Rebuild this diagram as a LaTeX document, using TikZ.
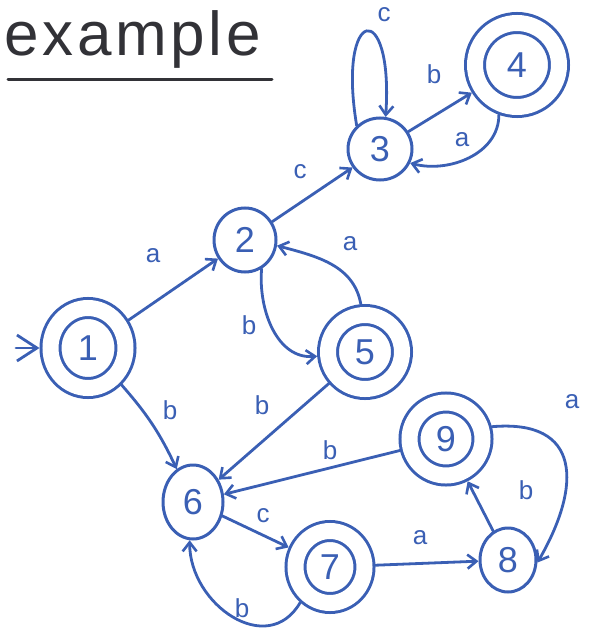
\documentclass[tikz,border=0pt]{standalone}
\usepackage{fontspec}
\setmainfont{Liberation Sans}
\usetikzlibrary{shapes.geometric,arrows.meta}
\definecolor{handblue}{RGB}{58,95,180}
\definecolor{handink}{RGB}{50,50,55}
\tikzset{
  st/.style={draw=handblue, ellipse, line width=3pt, inner sep=0pt, text=handblue,
    font=\fontsize{36}{36}\selectfont},
  acc/.style={st, double, double distance=16pt, outer sep=11pt},
  tr/.style={draw=handblue, line width=2.8pt, line cap=round,
    -{Straight Barb[length=9pt,width=14pt,line width=2.6pt]}},
  lbl/.style={text=handblue, font=\fontsize{26}{26}\selectfont, inner sep=0pt}
}
\begin{document}
\begin{tikzpicture}[x=1pt,y=-1pt]
\useasboundingbox (0,0) rectangle (606,639);
% title
\node[text=handink, font=\fontsize{62}{62}\selectfont\addfontfeature{LetterSpace=6}, anchor=base west, inner sep=0pt] (title) at (4,56) {example};
\coordinate (ul1) at (8,80);
\coordinate (ul2) at (272,80);
\draw[handink, line width=3pt, line cap=round] (ul1) -- (ul2);
% states
\node[acc, minimum width=75pt, minimum height=80pt] (1) at (88,348) {1};
\node[st, minimum width=62pt, minimum height=64pt] (2) at (245,240) {2};
\node[st, minimum width=64pt, minimum height=62pt] (3) at (380,149) {3};
\node[acc, minimum width=84pt, minimum height=84pt] (4) at (517,65) {4};
\node[acc, minimum width=74pt, minimum height=74pt] (5) at (365,352) {5};
\node[st, minimum width=60pt, minimum height=74pt] (6) at (193,502) {6};
\node[acc, minimum width=69pt, minimum height=72pt] (7) at (330,567) {7};
\node[st, minimum width=56pt, minimum height=64pt] (8) at (508,560) {8};
\node[acc, minimum width=73pt, minimum height=73pt] (9) at (446,439) {9};
% start
\coordinate (s) at (16,348);
\draw[draw=handblue, line width=2.8pt, line cap=round,
  -{Straight Barb[length=20pt,width=26pt,line width=2.8pt]}] (s) -- (1);
% transitions
\draw[tr] (1) -- (2);
\draw[tr] (1) to[bend left=8] (6);
\draw[tr] (2) -- (3);
\draw[tr] (2.-60) to[out=-95,in=185] (5);
\draw[tr] (5.95) to[out=100,in=-15] (2.-10);
\draw[tr] (3.135) .. controls +(-20,-120) and +(8,-120) .. (3.80);
\draw[tr] (3) -- (4);
\draw[tr] (4.-110) to[out=-90,in=-15] (3.-25);
\draw[tr] (5) -- (6);
\draw[tr] (9) -- (6);
\draw[tr] (9.15) to[out=5,in=60,looseness=1.6] (8.-5);
\draw[tr] (8) -- (9);
\draw[tr] (6) -- (7);
\draw[tr] (7) -- (8);
\draw[tr] (7.-130) to[out=-120,in=-90,looseness=1.3] (6.-95);
% labels
\node[lbl] (la12) at (153,256) {a};
\node[lbl] (lb16) at (170,410) {b};
\node[lbl] (lc23) at (300,172) {c};
\node[lbl] (lb25) at (249,325) {b};
\node[lbl] (la52) at (350,244) {a};
\node[lbl] (lc33) at (384,15) {c};
\node[lbl] (lb34) at (434,74) {b};
\node[lbl] (la43) at (462,140) {a};
\node[lbl] (lb56) at (262,405) {b};
\node[lbl] (lb96) at (330,450) {b};
\node[lbl] (la98) at (572,402) {a};
\node[lbl] (lb89) at (526,490) {b};
\node[lbl] (lc67) at (263,516) {c};
\node[lbl] (la78) at (420,538) {a};
\node[lbl] (lb76) at (242,608) {b};
\end{tikzpicture}
\end{document}
